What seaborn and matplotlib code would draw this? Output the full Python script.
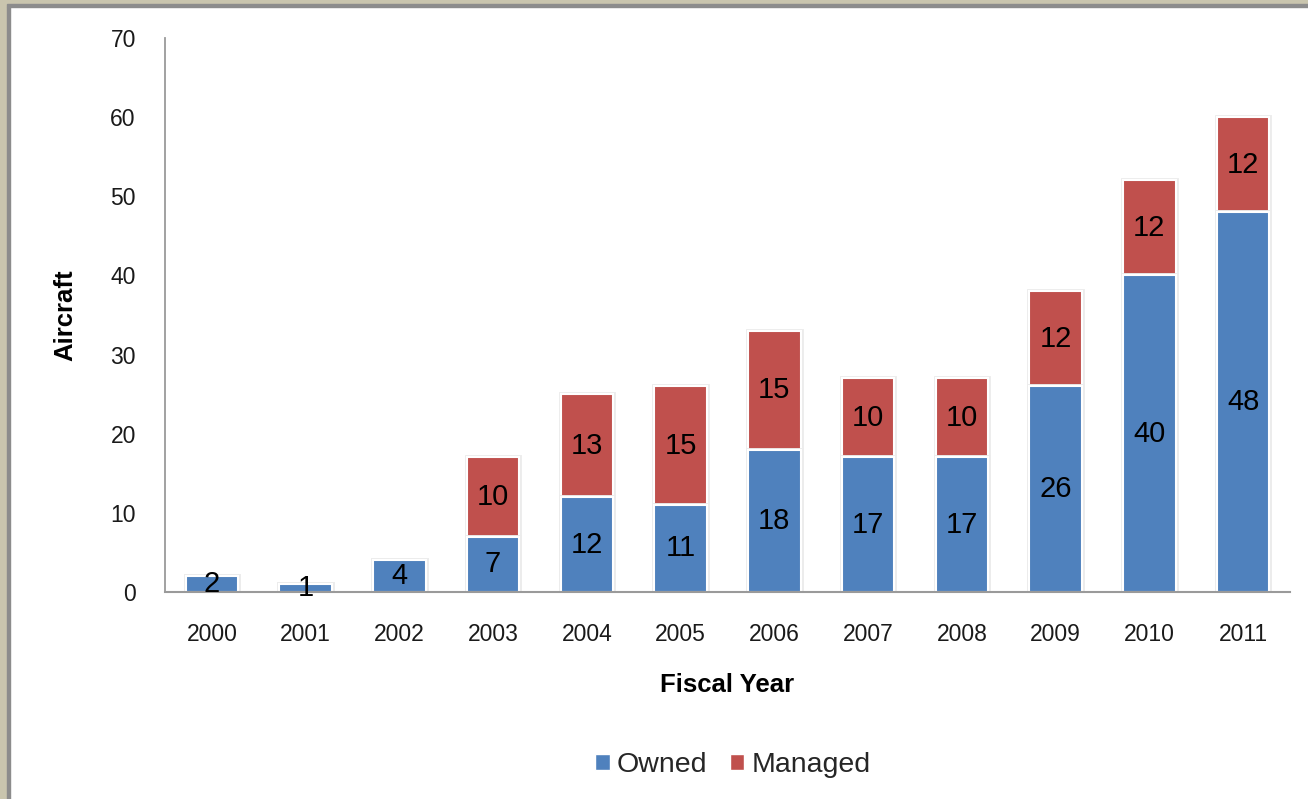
import matplotlib
matplotlib.use("Agg")
import matplotlib.pyplot as plt
import matplotlib.patheffects as pe
from matplotlib.patches import Rectangle, Patch
import seaborn as sns
import pandas as pd

years = ["2000", "2001", "2002", "2003", "2004", "2005", "2006", "2007", "2008", "2009", "2010", "2011"]
owned = [2, 1, 4, 7, 12, 11, 18, 17, 17, 26, 40, 48]
managed = [0, 0, 0, 10, 13, 15, 15, 10, 10, 12, 12, 12]
series_names = ["Owned", "Managed"]
colors = ["#4F81BD", "#C0504D"]

sns.set_theme(style="white")
plt.rcParams['font.family'] = ['Liberation Sans', 'DejaVu Sans']

fig = plt.figure(figsize=(13.08, 7.99), dpi=100)
fig.patch.set_facecolor("white")
ax = fig.add_axes([165/1308, 1-592/799, (1290-165)/1308, (592-38)/799])

df_total = pd.DataFrame({"year": years, "total": [o + m for o, m in zip(owned, managed)]})
df_owned = pd.DataFrame({"year": years, "owned": owned})

shadow = [pe.Stroke(linewidth=3.5, foreground="#ececec"), pe.Normal()]
sns.barplot(data=df_total, x="year", y="total", color=colors[1], saturation=1,
            width=0.56, edgecolor="white", linewidth=1.5, ax=ax)
sns.barplot(data=df_owned, x="year", y="owned", color=colors[0], saturation=1,
            width=0.56, edgecolor="white", linewidth=1.5, ax=ax)
for p in ax.patches:
    p.set_path_effects(shadow)

for i, (o, m) in enumerate(zip(owned, managed)):
    ax.text(i, o / 2, str(o), ha="center", va="center", fontsize=21, color="black")
    if m > 0:
        ax.text(i, o + m / 2, str(m), ha="center", va="center", fontsize=21, color="black")

ax.set_ylim(0, 70)
ax.set_yticks(range(0, 71, 10))
ax.set_xlim(-0.5, len(years) - 0.5)
ax.tick_params(axis="y", labelsize=16.5, pad=21, length=0, colors="#1a1a1a")
ax.tick_params(axis="x", labelsize=16.5, pad=22, length=0, colors="#1a1a1a")
for s in ["top", "right"]:
    ax.spines[s].set_visible(False)
ax.spines["left"].set_color("#9a9a9a")
ax.spines["bottom"].set_color("#9a9a9a")
ax.spines["left"].set_linewidth(1.3)
ax.spines["bottom"].set_linewidth(1.5)

ax.set_xlabel("Fiscal Year", fontsize=18.5, fontweight="bold", labelpad=20, color="black")
ax.set_ylabel("Aircraft", fontsize=18.5, fontweight="bold", color="black")
ax.yaxis.set_label_coords(-0.078, 0.5)

leg_handles = [Patch(facecolor=colors[0]), Patch(facecolor=colors[1])]
fig.legend(leg_handles, series_names, loc="center", bbox_to_anchor=(733/1308, 1-765/799),
           ncol=2, frameon=False, fontsize=20.5, handlelength=0.5, handleheight=0.5,
           handletextpad=0.25, columnspacing=0.8)

# window frame
fig.patches.append(Rectangle((0, 0), 7/1308, 1, transform=fig.transFigure, color="#c9c5ae", zorder=10))
fig.patches.append(Rectangle((7/1308, 0), 3/1308, 1-7/799, transform=fig.transFigure, color="#8c8c8c", zorder=10))
fig.patches.append(Rectangle((0, 1-4/799), 1, 4/799, transform=fig.transFigure, color="#c9c5ae", zorder=10))
fig.patches.append(Rectangle((7/1308, 1-7/799), 1, 3/799, transform=fig.transFigure, color="#8c8c8c", zorder=10))

fig.savefig("out.png", dpi=100, facecolor="white")
